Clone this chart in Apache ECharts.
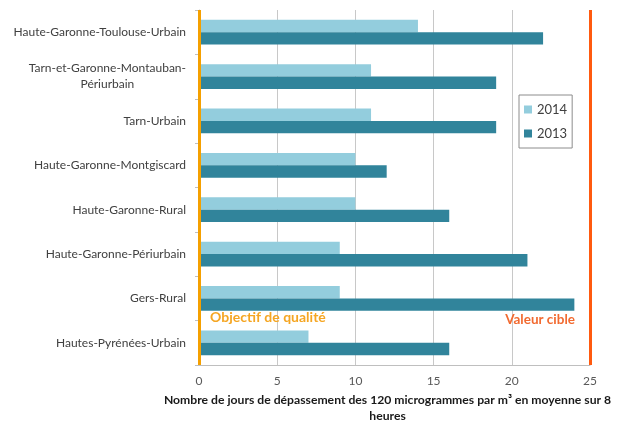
<!DOCTYPE html>
<html><head><meta charset="utf-8">
<script src="https://cdn.jsdelivr.net/npm/echarts@6/dist/echarts.min.js"></script>
<style>html,body{margin:0;padding:0;background:#fff}#c{width:618px;height:421px}</style>
</head><body><div id="c"></div>
<script>
var categories = ["Haute-Garonne-Toulouse-Urbain","Tarn-et-Garonne-Montauban-\nPériurbain","Tarn-Urbain","Haute-Garonne-Montgiscard","Haute-Garonne-Rural","Haute-Garonne-Périurbain","Gers-Rural","Hautes-Pyrénées-Urbain"];
var values2014 = [14, 11, 11, 10, 10, 9, 9, 7];
var values2013 = [22, 19, 19, 12, 16, 21, 24, 16];
var xTicks = [0, 5, 10, 15, 20, 25];
var objectifValue = 0;
var cibleValue = 25;
var font = "Lato, 'Open Sans', sans-serif";
var chart = echarts.init(document.getElementById('c'));
chart.setOption({
  animation: false,
  textStyle: {fontFamily: font},
  grid: {left: 199, right: 28, top: 10, bottom: 56, containLabel: false, outerBoundsMode: 'none'},
  legend: {
    orient: 'vertical', left: 519, top: 95, width: 53,
    data: ['2014', '2013'],
    icon: 'rect', itemWidth: 8, itemHeight: 8, itemGap: 11,
    padding: [8, 5, 8, 5],
    borderColor: '#8c8c8c', borderWidth: 1,
    textStyle: {fontSize: 13, color: '#404040', fontFamily: font}
  },
  xAxis: {
    type: 'value', min: 0, max: 25, interval: 5,
    name: 'Nombre de jours de dépassement des 120 microgrammes par m³ en moyenne sur 8\nheures',
    nameLocation: 'middle', nameGap: 27,
    nameTextStyle: {fontWeight: 'bold', fontSize: 12.2, color: '#1a1a1a', lineHeight: 16, fontFamily: font, padding: [0, 0, 0, -14]},
    axisLine: {show: true, lineStyle: {color: '#bfbfbf'}},
    axisTick: {show: false},
    axisLabel: {fontSize: 12, color: '#595959', margin: 10},
    splitLine: {lineStyle: {color: '#c8c8c8'}}
  },
  yAxis: {
    type: 'category', data: categories, inverse: true,
    axisLine: {show: true, lineStyle: {color: '#bfbfbf'}},
    axisTick: {show: true, length: 4, lineStyle: {color: '#bfbfbf'}},
    axisLabel: {
      fontSize: 12, color: '#404040', margin: 13, lineHeight: 16,
      formatter: function (v) {
        if (v.indexOf('\n') >= 0) {
          return v.split('\n').map(function (s) { return '{c|' + s + '}'; }).join('\n');
        }
        return v;
      },
      rich: {c: {align: 'center', fontSize: 12, color: '#404040', lineHeight: 16, fontFamily: font}}
    }
  },
  series: [
    {
      name: '2014', type: 'bar', data: values2014,
      itemStyle: {color: '#93cddd'},
      barGap: '0%', barCategoryGap: '44%'
    },
    {
      name: '2013', type: 'bar', data: values2013,
      itemStyle: {color: '#31849b'},
      barGap: '0%', barCategoryGap: '44%',
      markLine: {
        silent: true, symbol: 'none', label: {show: false},
        data: [
          {xAxis: objectifValue, lineStyle: {color: '#f5a000', width: 3, type: 'solid'}},
          {xAxis: cibleValue, lineStyle: {color: '#ff5a0f', width: 3, type: 'solid'}}
        ]
      }
    }
  ]
});
var p0 = chart.convertToPixel({xAxisIndex: 0}, objectifValue);
var p25 = chart.convertToPixel({xAxisIndex: 0}, cibleValue);
chart.setOption({
  graphic: [
    {type: 'text', left: p0 + 11, top: 310, style: {text: 'Objectif de qualité', fill: '#f5a623', font: 'bold 14px ' + font}},
    {type: 'text', right: 618 - p25 + 15, top: 313, style: {text: 'Valeur cible', fill: '#f26a30', font: 'bold 13.5px ' + font}}
  ]
});
</script></body></html>
